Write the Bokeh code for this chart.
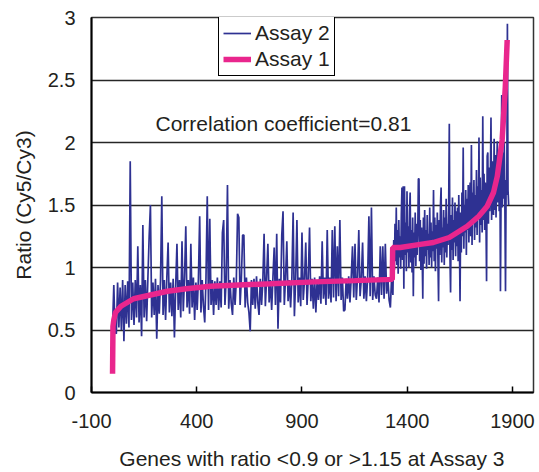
import numpy as np
from bokeh.plotting import figure
from bokeh.models import Range1d, FixedTicker, Legend, LegendItem, Label, CustomJSTickFormatter
from bokeh.embed import file_html
from bokeh.resources import INLINE

x_ticks = [-100, 400, 900, 1400, 1900]
y_ticks = [0, 0.5, 1, 1.5, 2, 2.5, 3]

# Assay 1 (sorted ratios)
assay1_x = [0, 2, 6, 14, 40, 100, 180, 261, 350, 465, 600, 750, 960, 1150, 1329,
            1331, 1367, 1462, 1524, 1600, 1685, 1740, 1780, 1810, 1828, 1851, 1866, 1875]
assay1_y = [0.15, 0.53, 0.58, 0.64, 0.69, 0.75, 0.78, 0.81, 0.83, 0.85, 0.86, 0.87, 0.885, 0.895, 0.905,
            1.16, 1.16, 1.185, 1.20, 1.24, 1.33, 1.41, 1.49, 1.60, 1.73, 2.02, 2.44, 2.82]

# Assay 2, genes below the jump (read every 6 genes, starting at gene 0)
seg1_start, seg1_step = 0, 6
seg1_y = [
    0.52, 0.86, 0.48, 0.47, 0.88, 0.52, 0.84, 0.50, 0.90, 0.41,
    0.86, 0.55, 0.89, 0.52, 1.85, 0.58, 0.88, 0.54, 0.90, 0.60,
    1.17, 0.56, 0.86, 0.45, 1.34, 0.60, 0.90, 0.57, 0.92, 1.25,
    1.50, 0.60, 0.88, 0.62, 0.91, 0.43, 0.86, 0.63, 0.90, 1.57,
    0.62, 0.90, 0.58, 0.92, 1.20, 0.64, 0.88, 0.61, 0.91, 0.44,
    0.85, 1.19, 0.66, 0.90, 0.60, 1.21, 0.65, 0.92, 1.33, 0.68,
    0.90, 0.63, 1.19, 0.68, 0.92, 0.58, 0.88, 0.66, 0.91, 1.41,
    0.64, 0.90, 0.69, 0.56, 0.92, 1.57, 0.66, 1.39, 0.70, 0.90,
    0.62, 0.89, 0.70, 0.92, 0.66, 0.89, 0.68, 1.28, 1.38, 0.70,
    0.91, 1.66, 0.67, 0.90, 0.71, 0.62, 0.92, 0.70, 0.89, 1.43,
    1.40, 0.70, 0.91, 1.26, 1.26, 0.68, 0.92, 0.72, 0.64, 0.49,
    0.90, 0.70, 0.91, 0.67, 0.93, 0.72, 0.62, 0.91, 0.70, 0.89,
    1.27, 0.69, 0.92, 1.19, 0.72, 0.90, 0.66, 0.92, 1.16, 0.70,
    1.27, 0.51, 0.91, 0.72, 1.26, 1.45, 0.70, 0.92, 1.21, 0.73,
    0.90, 0.68, 0.92, 1.44, 0.61, 0.91, 1.38, 0.72, 0.92, 0.69,
    1.28, 0.74, 0.90, 1.20, 0.70, 0.92, 1.32, 0.73, 0.91, 0.67,
    0.92, 0.64, 0.90, 0.74, 0.93, 0.71, 1.21, 0.75, 0.92, 0.70,
    1.30, 0.75, 0.92, 0.72, 1.30, 0.76, 1.33, 0.73, 1.17, 0.77,
    1.38, 0.74, 0.92, 0.65, 0.66, 0.91, 0.75, 0.93, 0.72, 0.92,
    1.17, 0.76, 1.19, 0.74, 0.93, 1.30, 0.77, 0.91, 1.20, 0.75,
    0.93, 0.73, 0.92, 1.41, 0.77, 1.48, 0.74, 0.93, 0.78, 0.75,
    0.92, 0.72, 1.17, 0.78, 1.17, 0.75, 1.19, 0.79, 0.92, 0.74,
    0.68, 0.93, 0.78,
]
# Assay 2, genes above the jump (read every 3 genes, starting at gene 1336)
seg2_start, seg2_step = 1336, 3
seg2_y = [
    1.22, 0.98, 1.35, 1.05, 1.48, 1.02, 1.30, 0.95, 1.38, 1.08,
    1.25, 0.99, 1.42, 1.64, 1.06, 1.65, 0.83, 1.65, 1.10, 1.36,
    0.97, 1.61, 1.12, 1.33, 1.00, 1.45, 1.60, 1.04, 1.30, 0.96,
    1.40, 0.77, 1.28, 1.08, 1.44, 1.01, 1.35, 1.10, 1.26, 1.71,
    1.71, 1.05, 1.38, 0.98, 1.32, 1.12, 0.75, 1.40, 1.03, 1.46,
    1.09, 1.30, 0.99, 1.42, 1.14, 1.27, 1.02, 1.48, 1.08, 1.36,
    1.00, 1.29, 1.13, 1.62, 1.05, 1.40, 0.97, 1.34, 1.15, 1.44,
    1.06, 0.73, 1.38, 1.10, 1.50, 1.64, 1.04, 1.32, 1.16, 1.46,
    1.02, 1.40, 1.12, 1.55, 1.08, 1.35, 1.18, 1.48, 2.15, 1.10,
    0.80, 1.42, 1.14, 1.56, 1.06, 1.38, 1.20, 1.52, 1.09, 1.45,
    1.17, 1.48, 1.05, 1.58, 1.22, 0.73, 1.44, 1.12, 1.60, 1.25,
    1.96, 1.15, 1.50, 1.28, 1.62, 1.10, 1.55, 1.30, 1.66, 1.20,
    1.52, 1.68, 1.25, 1.98, 1.18, 1.60, 1.35, 1.70, 1.22, 1.58,
    1.32, 1.78, 1.26, 1.65, 1.40, 2.04, 1.20, 1.72, 1.34, 1.62,
    1.28, 2.21, 1.38, 1.75, 1.30, 1.68, 1.42, 0.89, 1.89, 1.92,
    1.35, 1.80, 1.45, 1.70, 2.20, 1.38, 1.85, 1.50, 1.42, 2.03,
    1.46, 1.90, 1.40, 1.78, 2.01, 1.52, 1.88, 1.45, 1.95, 0.81,
    1.60, 2.38, 1.48, 1.92, 1.55, 2.00, 1.50, 0.81, 1.70, 1.58,
    2.95, 1.62, 1.50,
]
assay2_x = ([seg1_start + i * seg1_step for i in range(len(seg1_y))]
            + [seg2_start + j * seg2_step for j in range(len(seg2_y))])
assay2_y = seg1_y + seg2_y

FONT = "Liberation Sans"
TXT = "#231f20"

p = figure(width=539, height=472, x_range=Range1d(-100, 2000), y_range=Range1d(0, 3),
           output_backend="svg", toolbar_location=None,
           min_border_left=91, min_border_right=6, min_border_top=17, min_border_bottom=78)

blue = p.line(assay2_x, assay2_y, line_color="#2E3192", line_width=1.7)
pink = p.line(assay1_x, assay1_y, line_color="#E9268D", line_width=5.5)

p.xaxis.ticker = FixedTicker(ticks=x_ticks)
p.yaxis.ticker = FixedTicker(ticks=y_ticks)
fmt = "return tick.toString();"
p.xaxis.formatter = CustomJSTickFormatter(code=fmt)
p.yaxis.formatter = CustomJSTickFormatter(code=fmt)

for ax in (p.xaxis, p.yaxis):
    ax.axis_line_color = "black"
    ax.axis_line_width = 2
    ax.minor_tick_line_color = None
    ax.major_label_text_font = FONT
    ax.major_label_text_font_size = "20px"
    ax.major_label_text_color = TXT
    ax.axis_label_text_font = FONT
    ax.axis_label_text_font_size = "21px"
    ax.axis_label_text_font_style = "normal"
    ax.axis_label_text_color = TXT

p.xaxis.major_tick_in = 6
p.xaxis.major_tick_out = 0
p.xaxis.major_tick_line_color = "black"
p.xaxis.major_tick_line_width = 1.5
p.yaxis.major_tick_in = 0
p.yaxis.major_tick_out = 0
p.xaxis.major_label_standoff = 21
p.yaxis.major_label_standoff = 16
p.xaxis.axis_label = "Genes with ratio <0.9 or >1.15 at Assay 3"
p.yaxis.axis_label = "Ratio (Cy5/Cy3)"
p.xaxis.axis_label_standoff = 16
p.yaxis.axis_label_standoff = 10

p.xgrid.visible = False
p.ygrid.grid_line_color = "#262626"
p.ygrid.grid_line_width = 1.5
p.outline_line_color = "#333333"
p.outline_line_width = 1.5
p.background_fill_color = "white"
p.border_fill_color = "white"

p.add_layout(Label(x=204, y=2.15, text="Correlation coefficient=0.81", text_font=FONT,
                   text_font_size="21px", text_color=TXT, text_baseline="alphabetic"))

legend = Legend(items=[LegendItem(label="Assay 2", renderers=[blue]),
                       LegendItem(label="Assay 1", renderers=[pink])],
                location=(127, 316), border_line_color="black", border_line_width=1,
                border_line_alpha=1, background_fill_color="white", background_fill_alpha=1,
                padding=4, spacing=2, glyph_width=28, glyph_height=24, label_height=24,
                label_standoff=4, margin=0, label_text_font=FONT, label_text_font_size="21px",
                label_text_color=TXT)
p.add_layout(legend)

open("out.html", "w").write(file_html(p, INLINE))
